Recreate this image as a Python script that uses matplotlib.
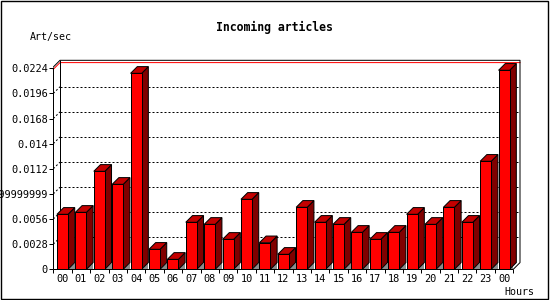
import matplotlib
matplotlib.use('Agg')
import matplotlib.pyplot as plt
from matplotlib.patches import Polygon, Rectangle
import numpy as np

# ---- data ----
hours = ['00', '01', '02', '03', '04', '05', '06', '07', '08', '09', '10', '11',
         '12', '13', '14', '15', '16', '17', '18', '19', '20', '21', '22', '23', '00']
rate = [0.00613, 0.00635, 0.01092, 0.00947, 0.02184, 0.00223, 0.00111, 0.00524,
        0.00501, 0.00334, 0.00780, 0.00296, 0.00167, 0.00691, 0.00524, 0.00501,
        0.00412, 0.00334, 0.00412, 0.00613, 0.00501, 0.00691, 0.00524, 0.01204,
        0.02218]
ytick_values = [0, 0.0028, 0.0056, 0.0084, 0.0112, 0.014, 0.0168, 0.0196, 0.0224]
ytick_labels = ['0', '0.0028', '0.0056', '0.00839999999999999', '0.0112', '0.014',
                '0.0168', '0.0196', '0.0224']
title = 'Incoming articles'
ylabel = 'Art/sec'
xlabel = 'Hours'

# ---- style ----
W, H = 550, 300
PX = 0.72  # one pixel in points at dpi 100
FRONT = '#ff0000'
SIDE = '#800000'
TOP = '#c40000'
SHADOW = '#8c8c8c'
MONO = 'DejaVu Sans Mono'

fig = plt.figure(figsize=(W / 100, H / 100), dpi=100)
ax_left, ax_bottom, ax_w, ax_h = 53.3, H - 269.3, 460.0, 201.0
ax = fig.add_axes([ax_left / W, ax_bottom / H, ax_w / W, ax_h / H])
n = len(hours)
ymax = ytick_values[-1]
xmin, xmax = -0.5, n - 0.5
ax.set_xlim(xmin, xmax)
ax.set_ylim(0, ymax)
for s in ax.spines.values():
    s.set_visible(False)
ax.patch.set_visible(False)

# 3D depth in pixels converted to data units
depth = 6.7
dx = depth * (xmax - xmin) / ax_w
dy = depth * ymax / ax_h
ypx = ymax / ax_h

lw = PX
dot = (0, (2, 2))

# back plane grid lines (dotted) and slanted connectors
for v in ytick_values[1:-1]:
    ax.plot([xmin + dx, xmax + dx], [v + dy, v + dy], color='black', lw=lw,
            ls=dot, clip_on=False, zorder=1)
    ax.plot([xmin, xmin + dx], [v, v + dy], color='black', lw=lw, ls=dot,
            clip_on=False, zorder=1)

# red top line
e_red = -1.0 * ypx
ax.plot([xmin, xmin + dx, xmax + dx], [ymax + e_red, ymax + e_red + dy, ymax + e_red + dy],
        color='#ff0000', lw=lw, clip_on=False, zorder=1)

# frame
e = 1.3 * ypx
frame_kw = dict(color='black', lw=lw, clip_on=False, solid_capstyle='butt')
ax.plot([xmin + dx, xmin + dx], [dy, ymax + e + dy], zorder=1, **frame_kw)
ax.plot([xmin, xmin], [0, ymax + e], zorder=8, **frame_kw)
ax.plot([xmin, xmin + dx, xmax + dx, xmax + dx, xmax],
        [ymax + e, ymax + e + dy, ymax + e + dy, dy, 0], zorder=8, **frame_kw)
ax.plot([xmin, xmax], [0, 0], zorder=8, **frame_kw)

# bars
w = 0.6
x = np.arange(n)
ax.bar(x, rate, width=w, color=FRONT, edgecolor='black', linewidth=lw, zorder=5)
for xi, v in zip(x, rate):
    L, R = xi - w / 2, xi + w / 2
    ax.add_patch(Polygon([(R, 0), (R + dx, 0), (R + dx, dy)], closed=True,
                         facecolor=SHADOW, edgecolor='none', zorder=3))
    ax.add_patch(Polygon([(R, 0), (R, v), (R + dx, v + dy), (R + dx, dy)], closed=True,
                         facecolor=SIDE, edgecolor='black', linewidth=lw, zorder=4,
                         clip_on=False))
    ax.add_patch(Polygon([(L, v), (R, v), (R + dx, v + dy), (L + dx, v + dy)], closed=True,
                         facecolor=TOP, edgecolor='black', linewidth=lw, zorder=4,
                         clip_on=False))

# ticks
ax.set_yticks(ytick_values)
ax.set_yticklabels(ytick_labels, family=MONO, fontsize=7.4)
ax.tick_params(axis='y', length=4 * PX, width=lw, pad=1.5 * PX, colors='black')
ax.set_xticks(np.arange(n + 1) - 0.5)
ax.set_xticklabels([])
ax.set_xticks(x, minor=True)
ax.set_xticklabels(hours, minor=True, family=MONO, fontsize=7.4)
ax.tick_params(axis='x', which='major', length=4 * PX, width=lw)
ax.tick_params(axis='x', which='minor', length=0, pad=5 * PX)

# texts
fig.text(274 / W, 1 - 27 / H, title, ha='center', va='center', family=MONO,
         weight='bold', fontsize=8.3)
fig.text(51 / W, 1 - 37 / H, ylabel, ha='center', va='center', family=MONO, fontsize=7.2)
fig.text(519 / W, 1 - 292 / H, xlabel, ha='center', va='center', family=MONO, fontsize=7.2)

# outer border
fig.add_artist(Rectangle((0.5 / W, 1.0 / H), 547.0 / W, 298.5 / H, transform=fig.transFigure,
                         fill=False, edgecolor='black', linewidth=1.4 * PX))

fig.savefig('out.png', dpi=100)
